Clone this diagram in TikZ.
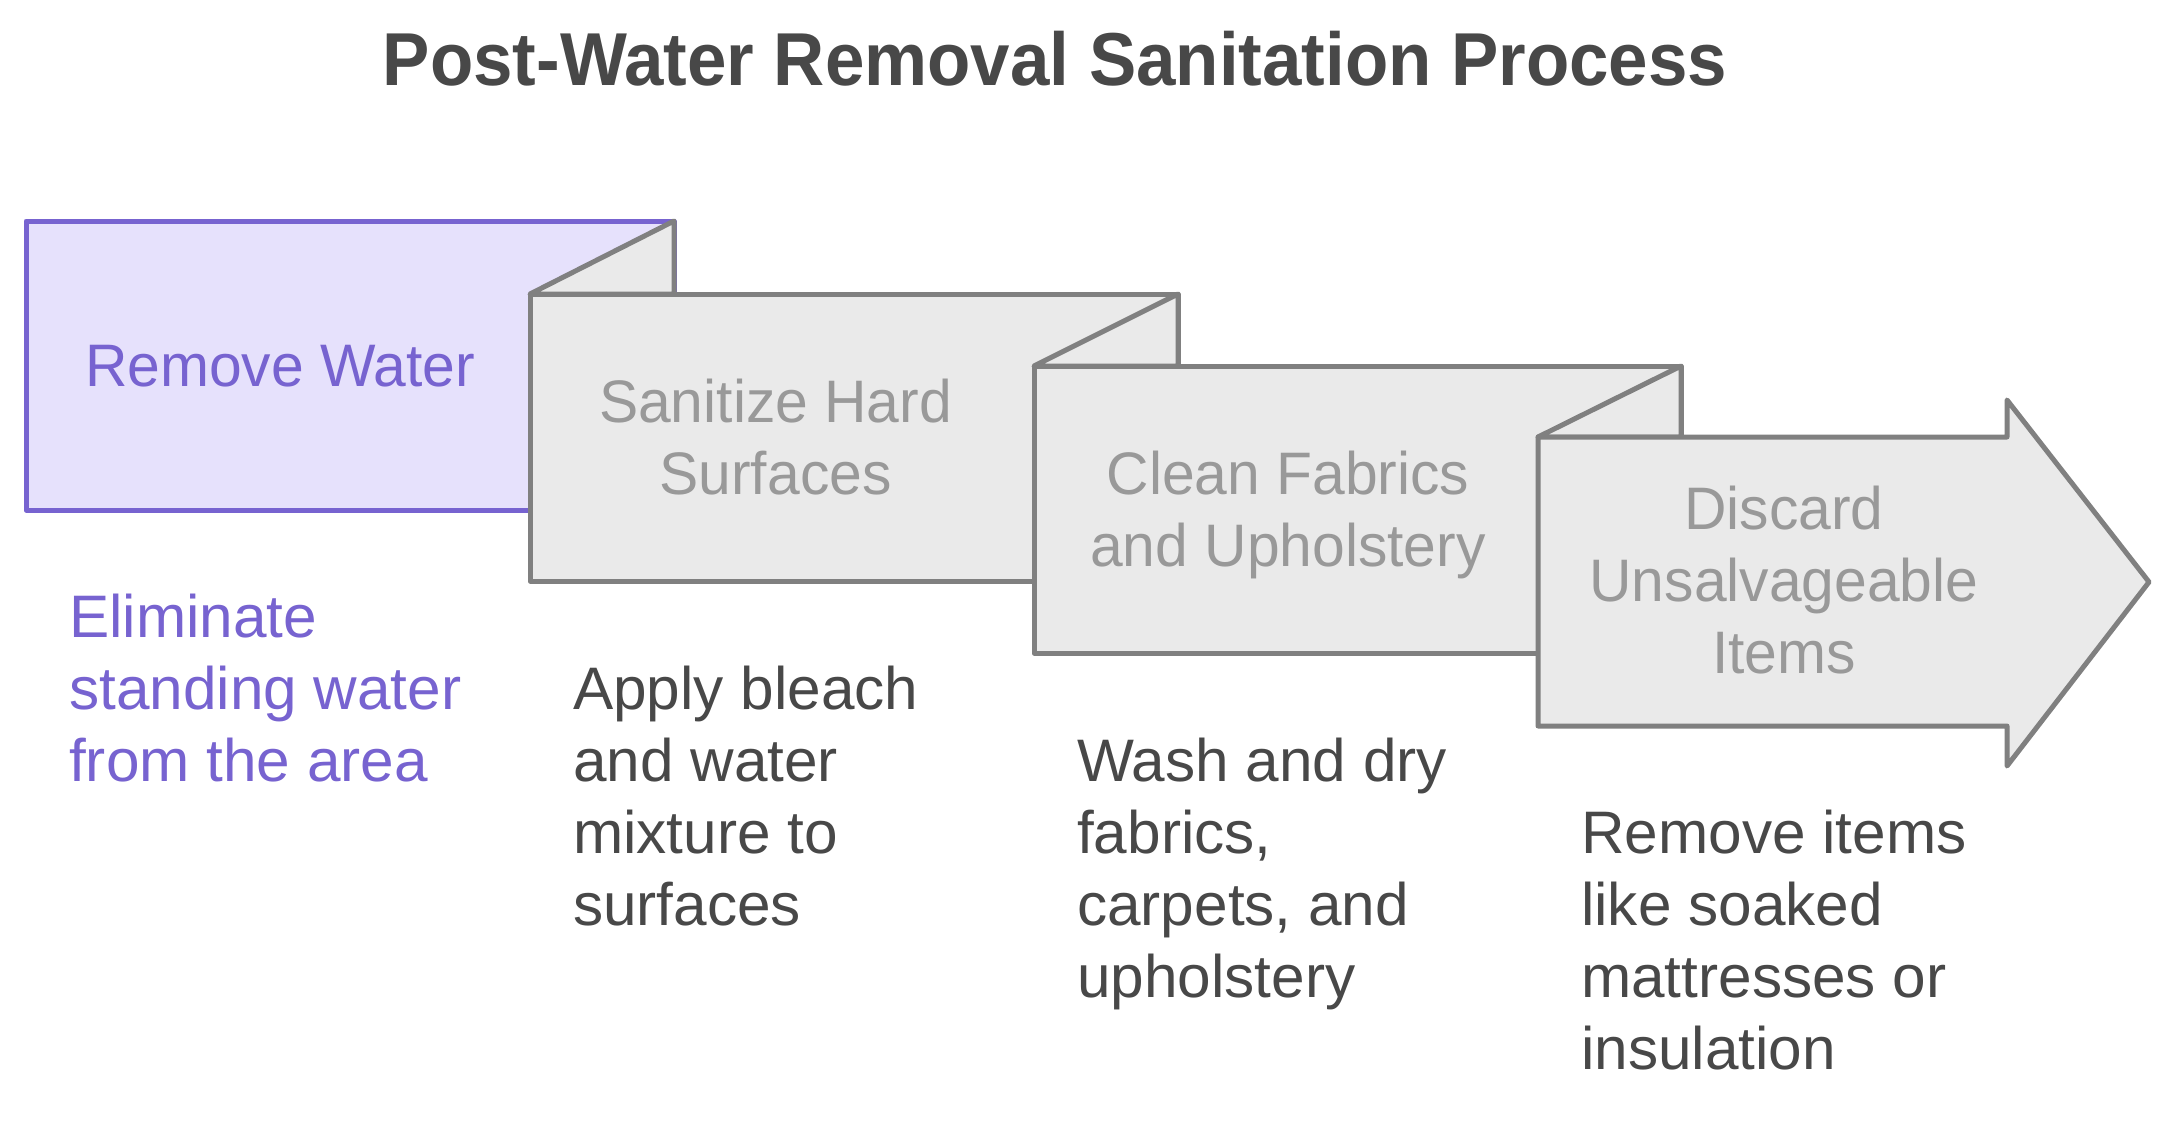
\documentclass[tikz,border=0pt]{standalone}
\usepackage{fontspec}
\setmainfont{Liberation Sans}
\newfontfamily\labelfont{Liberation Sans}[FakeStretch=0.98]
\newfontfamily\descfont{Liberation Sans}[FakeStretch=1.005]
\newfontfamily\titlefont{Liberation Sans}[FakeStretch=0.945]
\definecolor{purpleline}{HTML}{7763D0}
\definecolor{purplefill}{HTML}{E6E1FC}
\definecolor{purpletext}{HTML}{7763D0}
\definecolor{grayline}{HTML}{808080}
\definecolor{grayfill}{HTML}{EAEAEA}
\definecolor{graytext}{HTML}{999999}
\definecolor{darktext}{HTML}{484848}
\begin{document}
\begin{tikzpicture}[x=1pt,y=-1pt,
  purplebox/.style={draw=purpleline, fill=purplefill, line width=5pt, line join=round},
  graybox/.style={draw=grayline, fill=grayfill, line width=5pt, line join=round},
  boxlabel/.style={font=\labelfont\fontsize{60}{72}\selectfont, text=graytext, align=center, inner sep=0pt, anchor=base},
  desc/.style={font=\descfont\fontsize{60}{72}\selectfont, text=darktext, align=left, inner sep=0pt, anchor=base west},
  titlestyle/.style={font=\titlefont\bfseries\fontsize{75}{90}\selectfont, text=darktext, inner sep=0pt, anchor=base}]
\useasboundingbox (0,0) rectangle (2170,1126);

% title
\node[titlestyle] (title) at (1055,85.7) {Post-Water Removal Sanitation Process};

% step 1
\draw[purplebox] (26,221) rectangle (674,510);
% step 2
\draw[graybox] (530,294) -- (674,221) -- (674,294) -- cycle;
\draw[graybox] (530,294) rectangle (1178,581);
% step 3
\draw[graybox] (1034,366) -- (1178,294) -- (1178,366) -- cycle;
\draw[graybox] (1034,366) rectangle (1681,653);
% step 4
\draw[graybox] (1538,437) -- (1681,366) -- (1681,437) -- cycle;
\draw[graybox] (1538,437) -- (2007,437) -- (2007,400) -- (2149,582) -- (2007,766) -- (2007,726) -- (1538,726) -- cycle;

% box labels (anchor = baseline of last line)
\node[boxlabel, text=purpletext] (l1) at (280,386.7) {Remove Water};
\node[boxlabel] (l2) at (775.5,494.3) {Sanitize Hard\\Surfaces};
\node[boxlabel] (l3) at (1288,566.7) {Clean Fabrics\\and Upholstery};
\node[boxlabel] (l4) at (1784,673.3) {Discard\\Unsalvageable\\Items};

% descriptions (anchor = baseline of last line)
\node[desc, text=purpletext] (d1) at (69,781.3) {Eliminate\\standing water\\from the area};
\node[desc] (d2) at (573,925) {Apply bleach\\and water\\mixture to\\surfaces};
\node[desc] (d3) at (1077,997) {Wash and dry\\fabrics,\\carpets, and\\upholstery};
\node[desc] (d4) at (1581,1069) {Remove items\\like soaked\\mattresses or\\insulation};
\end{tikzpicture}
\end{document}
